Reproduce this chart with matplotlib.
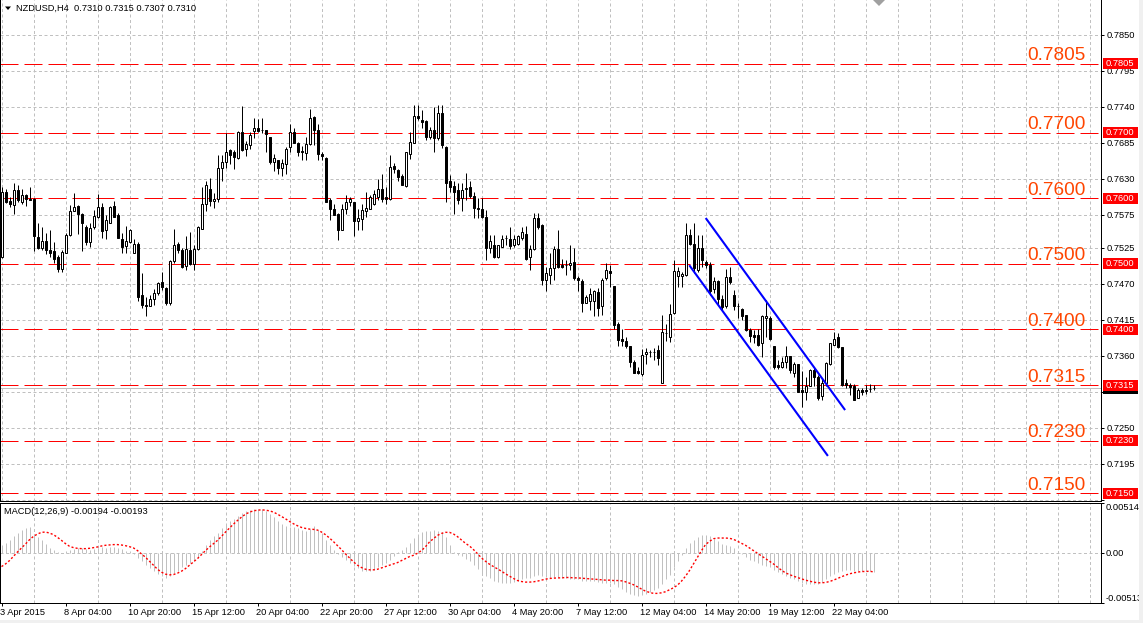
import numpy as np
import matplotlib
matplotlib.use("Agg")
import matplotlib.pyplot as plt
import matplotlib.transforms as mtransforms
from matplotlib.patches import Rectangle, Polygon

plt.rcParams['font.family'] = ['Liberation Sans', 'DejaVu Sans']

# ── Canvas (pixels) ──
W, H = 1143, 623
PX = 0.72  # one pixel in points at dpi 100

# ── Data: NZDUSD H4 candles ──
opens = [
    0.7511, 0.7609, 0.7596, 0.7590, 0.7613, 0.7595, 0.7605, 0.7599, 0.7599, 0.7541,
    0.7525, 0.7535, 0.7521, 0.7520, 0.7511, 0.7492, 0.7517, 0.7544, 0.7580, 0.7588,
    0.7576, 0.7557, 0.7534, 0.7556, 0.7571, 0.7587, 0.7551, 0.7563, 0.7588, 0.7574,
    0.7538, 0.7527, 0.7534, 0.7517, 0.7531, 0.7452, 0.7437, 0.7435, 0.7446, 0.7455,
    0.7472, 0.7463, 0.7440, 0.7505, 0.7530, 0.7521, 0.7497, 0.7521, 0.7500, 0.7522,
    0.7554, 0.7592, 0.7614, 0.7596, 0.7599, 0.7647, 0.7655, 0.7674, 0.7670, 0.7661,
    0.7702, 0.7676, 0.7681, 0.7703, 0.7707, 0.7705, 0.7704, 0.7693, 0.7656, 0.7658,
    0.7647, 0.7653, 0.7678, 0.7702, 0.7685, 0.7672, 0.7669, 0.7683, 0.7724, 0.7705,
    0.7668, 0.7662, 0.7598, 0.7583, 0.7576, 0.7551, 0.7583, 0.7595, 0.7594, 0.7566,
    0.7568, 0.7580, 0.7583, 0.7592, 0.7602, 0.7614, 0.7602, 0.7599, 0.7650, 0.7644,
    0.7634, 0.7619, 0.7667, 0.7685, 0.7726, 0.7720, 0.7718, 0.7693, 0.7704, 0.7692,
    0.7730, 0.7678, 0.7626, 0.7619, 0.7613, 0.7600, 0.7614, 0.7618, 0.7603, 0.7586,
    0.7583, 0.7572, 0.7525, 0.7529, 0.7511, 0.7526, 0.7539, 0.7538, 0.7529, 0.7531,
    0.7539, 0.7545, 0.7510, 0.7522, 0.7570, 0.7559, 0.7475, 0.7483, 0.7493, 0.7523,
    0.7498, 0.7498, 0.7498, 0.7503, 0.7478, 0.7474, 0.7441, 0.7444, 0.7444, 0.7457,
    0.7435, 0.7478, 0.7489, 0.7466, 0.7409, 0.7386, 0.7383, 0.7375, 0.7351, 0.7336,
    0.7332, 0.7362, 0.7366, 0.7366, 0.7369, 0.7319, 0.7395, 0.7389, 0.7425, 0.7482,
    0.7482, 0.7483, 0.7544, 0.7531, 0.7491, 0.7525, 0.7503, 0.7498, 0.7461, 0.7474,
    0.7447, 0.7435, 0.7480, 0.7453, 0.7436, 0.7431, 0.7422, 0.7399, 0.7392, 0.7391,
    0.7379, 0.7418, 0.7418, 0.7374, 0.7346, 0.7343, 0.7351, 0.7360, 0.7334, 0.7347,
    0.7308, 0.7305, 0.7313, 0.7338, 0.7328, 0.7298, 0.7318, 0.7347, 0.7376, 0.7388,
    0.7373, 0.7318, 0.7315, 0.7314, 0.7296, 0.7308, 0.7306, 0.7309, 0.7310,
]
highs = [
    0.7618, 0.7615, 0.7602, 0.7623, 0.7620, 0.7614, 0.7607, 0.7617, 0.7600, 0.7563,
    0.7556, 0.7547, 0.7552, 0.7534, 0.7513, 0.7521, 0.7547, 0.7590, 0.7608, 0.7590,
    0.7577, 0.7559, 0.7563, 0.7582, 0.7607, 0.7593, 0.7575, 0.7588, 0.7596, 0.7577,
    0.7547, 0.7558, 0.7553, 0.7538, 0.7534, 0.7486, 0.7450, 0.7453, 0.7461, 0.7473,
    0.7487, 0.7465, 0.7506, 0.7554, 0.7534, 0.7524, 0.7542, 0.7549, 0.7529, 0.7558,
    0.7618, 0.7627, 0.7631, 0.7608, 0.7666, 0.7666, 0.7699, 0.7676, 0.7674, 0.7703,
    0.7741, 0.7688, 0.7702, 0.7723, 0.7721, 0.7723, 0.7705, 0.7694, 0.7667, 0.7659,
    0.7660, 0.7679, 0.7713, 0.7707, 0.7686, 0.7680, 0.7694, 0.7737, 0.7725, 0.7714,
    0.7670, 0.7663, 0.7600, 0.7592, 0.7577, 0.7592, 0.7605, 0.7602, 0.7595, 0.7584,
    0.7591, 0.7610, 0.7605, 0.7613, 0.7629, 0.7637, 0.7618, 0.7666, 0.7654, 0.7645,
    0.7637, 0.7671, 0.7702, 0.7742, 0.7742, 0.7735, 0.7720, 0.7709, 0.7740, 0.7742,
    0.7743, 0.7680, 0.7636, 0.7626, 0.7623, 0.7623, 0.7639, 0.7626, 0.7610, 0.7600,
    0.7600, 0.7582, 0.7544, 0.7544, 0.7529, 0.7544, 0.7544, 0.7557, 0.7544, 0.7544,
    0.7556, 0.7558, 0.7529, 0.7578, 0.7577, 0.7561, 0.7496, 0.7516, 0.7527, 0.7552,
    0.7507, 0.7506, 0.7529, 0.7525, 0.7481, 0.7477, 0.7453, 0.7463, 0.7460, 0.7463,
    0.7478, 0.7501, 0.7498, 0.7466, 0.7412, 0.7400, 0.7389, 0.7375, 0.7353, 0.7343,
    0.7370, 0.7371, 0.7369, 0.7372, 0.7376, 0.7422, 0.7409, 0.7439, 0.7506, 0.7496,
    0.7488, 0.7563, 0.7554, 0.7562, 0.7544, 0.7544, 0.7506, 0.7503, 0.7480, 0.7475,
    0.7452, 0.7492, 0.7495, 0.7460, 0.7440, 0.7433, 0.7422, 0.7402, 0.7399, 0.7400,
    0.7422, 0.7445, 0.7421, 0.7374, 0.7353, 0.7358, 0.7374, 0.7360, 0.7351, 0.7348,
    0.7337, 0.7328, 0.7339, 0.7343, 0.7330, 0.7324, 0.7351, 0.7380, 0.7396, 0.7395,
    0.7373, 0.7324, 0.7319, 0.7316, 0.7310, 0.7310, 0.7315, 0.7317, 0.7315,
]
lows = [
    0.7509, 0.7593, 0.7587, 0.7576, 0.7595, 0.7591, 0.7588, 0.7597, 0.7519, 0.7522,
    0.7521, 0.7515, 0.7511, 0.7501, 0.7487, 0.7488, 0.7516, 0.7543, 0.7580, 0.7546,
    0.7520, 0.7529, 0.7526, 0.7554, 0.7570, 0.7540, 0.7538, 0.7562, 0.7571, 0.7539,
    0.7516, 0.7516, 0.7532, 0.7516, 0.7444, 0.7432, 0.7421, 0.7435, 0.7437, 0.7453,
    0.7460, 0.7437, 0.7438, 0.7501, 0.7516, 0.7493, 0.7491, 0.7498, 0.7490, 0.7521,
    0.7554, 0.7580, 0.7588, 0.7585, 0.7595, 0.7627, 0.7646, 0.7653, 0.7645, 0.7660,
    0.7673, 0.7664, 0.7676, 0.7692, 0.7702, 0.7699, 0.7670, 0.7653, 0.7642, 0.7637,
    0.7634, 0.7637, 0.7671, 0.7685, 0.7665, 0.7658, 0.7658, 0.7681, 0.7681, 0.7658,
    0.7658, 0.7595, 0.7567, 0.7574, 0.7537, 0.7551, 0.7576, 0.7588, 0.7543, 0.7552,
    0.7552, 0.7572, 0.7583, 0.7590, 0.7598, 0.7595, 0.7591, 0.7598, 0.7638, 0.7626,
    0.7620, 0.7618, 0.7660, 0.7685, 0.7720, 0.7708, 0.7689, 0.7691, 0.7671, 0.7689,
    0.7677, 0.7595, 0.7610, 0.7576, 0.7592, 0.7580, 0.7598, 0.7600, 0.7570, 0.7570,
    0.7570, 0.7506, 0.7516, 0.7509, 0.7509, 0.7526, 0.7529, 0.7522, 0.7526, 0.7529,
    0.7537, 0.7506, 0.7490, 0.7521, 0.7554, 0.7468, 0.7459, 0.7469, 0.7475, 0.7493,
    0.7493, 0.7483, 0.7491, 0.7475, 0.7458, 0.7426, 0.7440, 0.7430, 0.7421, 0.7421,
    0.7422, 0.7475, 0.7465, 0.7400, 0.7374, 0.7375, 0.7371, 0.7343, 0.7333, 0.7332,
    0.7329, 0.7348, 0.7358, 0.7353, 0.7346, 0.7319, 0.7383, 0.7381, 0.7423, 0.7465,
    0.7464, 0.7481, 0.7529, 0.7486, 0.7488, 0.7496, 0.7493, 0.7452, 0.7455, 0.7437,
    0.7430, 0.7433, 0.7469, 0.7430, 0.7417, 0.7414, 0.7397, 0.7381, 0.7380, 0.7374,
    0.7358, 0.7389, 0.7384, 0.7339, 0.7339, 0.7341, 0.7341, 0.7333, 0.7328, 0.7305,
    0.7282, 0.7293, 0.7313, 0.7313, 0.7292, 0.7293, 0.7313, 0.7346, 0.7376, 0.7372,
    0.7313, 0.7310, 0.7300, 0.7292, 0.7295, 0.7300, 0.7302, 0.7305, 0.7307,
]
closes = [
    0.7609, 0.7595, 0.7592, 0.7613, 0.7598, 0.7605, 0.7599, 0.7598, 0.7542, 0.7525,
    0.7535, 0.7521, 0.7517, 0.7508, 0.7492, 0.7518, 0.7544, 0.7581, 0.7587, 0.7576,
    0.7563, 0.7533, 0.7555, 0.7573, 0.7587, 0.7550, 0.7567, 0.7587, 0.7572, 0.7539,
    0.7526, 0.7535, 0.7552, 0.7530, 0.7450, 0.7437, 0.7435, 0.7447, 0.7455, 0.7471,
    0.7464, 0.7440, 0.7505, 0.7529, 0.7521, 0.7496, 0.7522, 0.7500, 0.7522, 0.7556,
    0.7592, 0.7621, 0.7596, 0.7599, 0.7646, 0.7655, 0.7671, 0.7666, 0.7663, 0.7702,
    0.7674, 0.7683, 0.7696, 0.7708, 0.7703, 0.7705, 0.7698, 0.7656, 0.7661, 0.7647,
    0.7654, 0.7676, 0.7702, 0.7685, 0.7670, 0.7670, 0.7683, 0.7723, 0.7705, 0.7667,
    0.7665, 0.7595, 0.7583, 0.7575, 0.7551, 0.7584, 0.7594, 0.7599, 0.7565, 0.7570,
    0.7582, 0.7585, 0.7602, 0.7606, 0.7615, 0.7599, 0.7599, 0.7648, 0.7645, 0.7633,
    0.7621, 0.7670, 0.7686, 0.7726, 0.7722, 0.7717, 0.7694, 0.7704, 0.7692, 0.7730,
    0.7681, 0.7624, 0.7618, 0.7610, 0.7598, 0.7613, 0.7616, 0.7603, 0.7586, 0.7583,
    0.7572, 0.7525, 0.7535, 0.7511, 0.7529, 0.7538, 0.7539, 0.7527, 0.7538, 0.7542,
    0.7548, 0.7508, 0.7523, 0.7570, 0.7557, 0.7475, 0.7486, 0.7493, 0.7523, 0.7495,
    0.7496, 0.7498, 0.7501, 0.7478, 0.7475, 0.7441, 0.7450, 0.7454, 0.7459, 0.7433,
    0.7476, 0.7491, 0.7486, 0.7407, 0.7384, 0.7383, 0.7375, 0.7350, 0.7334, 0.7333,
    0.7361, 0.7366, 0.7366, 0.7366, 0.7356, 0.7396, 0.7394, 0.7424, 0.7489, 0.7489,
    0.7485, 0.7544, 0.7531, 0.7493, 0.7524, 0.7506, 0.7498, 0.7458, 0.7474, 0.7447,
    0.7434, 0.7480, 0.7472, 0.7435, 0.7435, 0.7420, 0.7399, 0.7390, 0.7389, 0.7376,
    0.7421, 0.7421, 0.7386, 0.7343, 0.7343, 0.7351, 0.7360, 0.7338, 0.7348, 0.7305,
    0.7305, 0.7313, 0.7338, 0.7328, 0.7295, 0.7319, 0.7349, 0.7379, 0.7386, 0.7373,
    0.7315, 0.7315, 0.7312, 0.7293, 0.7308, 0.7305, 0.7308, 0.7309, 0.7310,
]

# MACD(12,26,9): main histogram and signal, in units of 1e-5
macd_main = [
    85, 101, 135, 169, 203, 237, 254, 260, 193, 159,
    135, 91, 51, 30, 10, 3, 17, 34, 44, 51,
    51, 44, 34, 41, 51, 57, 51, 57, 61, 51,
    41, 24, 17, -10, -51, -85, -118, -152, -186, -213,
    -237, -254, -237, -203, -179, -145, -125, -101, -85, -51,
    17, 85, 135, 169, 203, 254, 287, 321, 348, 372,
    406, 423, 433, 443, 450, 450, 429, 395, 362, 328,
    294, 270, 260, 260, 254, 237, 220, 247, 270, 237,
    203, 135, 85, 34, -10, -44, -68, -101, -135, -152,
    -179, -186, -179, -169, -145, -118, -101, -68, -34, 10,
    34, 57, 101, 152, 186, 213, 226, 226, 237, 226,
    213, 159, 85, 10, -17, -34, -57, -85, -118, -159,
    -203, -237, -260, -281, -294, -304, -308, -304, -294, -281,
    -270, -260, -254, -237, -226, -237, -247, -254, -247, -247,
    -254, -260, -264, -270, -270, -281, -281, -287, -287, -294,
    -304, -304, -304, -321, -348, -372, -395, -416, -433, -439,
    -433, -416, -395, -379, -355, -314, -270, -220, -145, -78,
    -17, 51, 101, 135, 159, 179, 186, 169, 145, 118,
    91, 78, 68, 51, 24, -10, -44, -68, -85, -101,
    -118, -128, -145, -169, -193, -213, -233, -254, -270, -287,
    -304, -314, -321, -321, -314, -294, -270, -237, -213, -193,
    -179, -172, -169, -179, -186, -186, -189, -189, -194,
]
macd_signal = [
    -139, -112, -78, -34, 10, 51, 91, 135, 169, 193,
    210, 213, 203, 186, 159, 128, 95, 68, 54, 47,
    44, 44, 47, 54, 61, 71, 78, 81, 85, 85,
    81, 74, 64, 51, 24, -10, -44, -85, -125, -166,
    -196, -216, -223, -220, -206, -186, -159, -125, -91, -57,
    -17, 24, 61, 95, 128, 169, 213, 254, 294, 331,
    365, 395, 416, 429, 436, 439, 436, 429, 416, 395,
    372, 348, 321, 297, 277, 260, 250, 243, 240, 233,
    213, 186, 152, 115, 74, 34, -10, -51, -91, -125,
    -149, -166, -172, -172, -166, -152, -139, -125, -112, -98,
    -78, -57, -37, -24, -3, 24, 64, 112, 145, 179,
    199, 210, 210, 193, 166, 132, 98, 71, 34, -7,
    -51, -85, -115, -139, -162, -186, -213, -237, -260, -281,
    -291, -297, -297, -294, -287, -277, -267, -260, -257, -254,
    -254, -250, -250, -254, -254, -257, -260, -264, -267, -270,
    -274, -277, -277, -281, -281, -284, -294, -308, -324, -345,
    -368, -389, -402, -412, -412, -406, -395, -375, -355, -328,
    -287, -237, -179, -112, -44, 24, 85, 118, 145, 152,
    152, 152, 149, 139, 118, 98, 78, 51, 24, -3,
    -30, -57, -85, -112, -145, -176, -203, -220, -237, -250,
    -264, -277, -287, -297, -304, -304, -301, -291, -277, -260,
    -243, -226, -213, -203, -196, -189, -189, -186, -193,
]

levels = [0.7805, 0.7700, 0.7600, 0.7500, 0.7400, 0.7315, 0.7230, 0.7150]
price_ticks = [0.7850, 0.7795, 0.7740, 0.7685, 0.7630, 0.7575, 0.7525,
               0.7470, 0.7415, 0.7360, 0.7305, 0.7250, 0.7195, 0.7140]
# ticks whose labels sit under the price boxes on the axis
hidden_tick_labels = [0.7305, 0.7140]
time_labels = ["3 Apr 2015", "8 Apr 04:00", "10 Apr 20:00", "15 Apr 12:00",
               "20 Apr 04:00", "22 Apr 20:00", "27 Apr 12:00", "30 Apr 04:00",
               "4 May 20:00", "7 May 12:00", "12 May 04:00", "14 May 20:00",
               "19 May 12:00", "22 May 04:00"]
# trend channel anchors: (bar index, price)
channel_upper = [(176.05, 0.7570), (210.9, 0.7277)]
channel_lower = [(171.95, 0.7498), (206.6, 0.7207)]

# ── Colours ──
GRID = "#c0c0c0"
LEVEL_RED = "#ff0000"
LABEL_ORANGE = "#ff4500"
HIST_GRAY = "#c0c0c0"


def fx(px):
    return px / W


def fy(py):
    return 1 - py / H


o = np.array(opens)
h = np.array(highs)
l = np.array(lows)
c = np.array(closes)
x = np.arange(len(c))
hist = np.array(macd_main) * 1e-5
sig = np.array(macd_signal) * 1e-5

fig = plt.figure(figsize=(W / 100, H / 100), dpi=100)
fig.patch.set_facecolor("white")

# pixel geometry of the two panels
AX_RIGHT = 1101
MAIN_BOTTOM = 500.5
MACD_TOP, MACD_BOTTOM = 502.5, 603.3

ax = fig.add_axes([0, fy(MAIN_BOTTOM), fx(AX_RIGHT), MAIN_BOTTOM / H])
axm = fig.add_axes([0, fy(MACD_BOTTOM), fx(AX_RIGHT), (MACD_BOTTOM - MACD_TOP) / H])

xlim = (-1.5 / 4, (AX_RIGHT - 1.5) / 4)
ax.set_xlim(*xlim)
axm.set_xlim(*xlim)
# price scale: 0.7805 sits at y=64 px, 6554 px per unit of price
ax.set_ylim(0.7805 - (MAIN_BOTTOM - 64) / 6554, 0.7805 + 64 / 6554)
axm.set_ylim(-0.00513, 0.00514)

for a in (ax, axm):
    for s in a.spines.values():
        s.set_color("black")
        s.set_linewidth(PX)
ax.spines["top"].set_visible(False)

# ── grid ──
grid_kw = dict(color=GRID, lw=PX, ls=(0, (3, 2.5)))
ax.set_xticks(np.arange(0, 275, 8))
ax.tick_params(axis="x", length=0, labelbottom=False)
ax.grid(True, axis="both", zorder=0, **grid_kw)
ax.set_axisbelow(True)

ax.yaxis.tick_right()
ax.set_yticks(price_ticks)
ax.set_yticklabels(["" if t in hidden_tick_labels else f"{t:.4f}" for t in price_ticks])
ax.tick_params(axis="y", length=2.2, width=PX, pad=1.6, labelsize=6.7,
               direction="out", colors="black")

# ── levels, current price, candles ──
for lvl in levels:
    ax.axhline(lvl, color=LEVEL_RED, lw=PX, ls=(0, (18, 6)), zorder=2)
ax.axhline(c[-1], color=GRID, lw=PX, zorder=1.5)

up = c >= o
ax.vlines(x, l, h, color="black", lw=PX, zorder=3)
ax.bar(x[up], c[up] - o[up], bottom=o[up], width=0.5, facecolor="white",
       edgecolor="black", lw=PX, zorder=4)
ax.bar(x[~up], c[~up] - o[~up], bottom=o[~up], width=0.5, facecolor="black",
       edgecolor="black", lw=PX, zorder=4)

for (x0, y0), (x1, y1) in (channel_upper, channel_lower):
    ax.plot([x0, x1], [y0, y1], color="#0000ff", lw=1.5, zorder=5,
            solid_capstyle="butt")

# level labels inside chart + red price boxes on the axis
trans = mtransforms.blended_transform_factory(ax.transAxes, ax.transData)
box_h = 11 / 6554
for lvl in levels:
    ax.annotate(f"{lvl:.4f}", xy=(1027.7 / AX_RIGHT, lvl), xycoords=trans,
                xytext=(0, 2.6), textcoords="offset points", ha="left",
                va="baseline", fontsize=13.7, color=LABEL_ORANGE, zorder=7)

# bid price box, mostly covered by the 0.7315 box
ax.add_patch(Rectangle((1103 / AX_RIGHT, c[-1] - box_h / 2), 35 / AX_RIGHT, box_h,
                       transform=trans, facecolor="black", edgecolor="none",
                       clip_on=False, zorder=5))
for lvl in levels:
    ax.add_patch(Rectangle((1103 / AX_RIGHT, lvl - box_h / 2), 35 / AX_RIGHT, box_h,
                           transform=trans, facecolor=LEVEL_RED, edgecolor="none",
                           clip_on=False, zorder=6))
    ax.text(1106 / AX_RIGHT, lvl, f"{lvl:.4f}", transform=trans, color="white",
            va="center", ha="left", fontsize=6.7, zorder=6.5, clip_on=False)

# ── MACD panel ──
axm.vlines(x, 0, hist, color=HIST_GRAY, lw=PX, zorder=2)
axm.plot(x, sig, color="red", lw=1.0, ls=(0, (1.5, 1.5)), zorder=3)
axm.axhline(0, zorder=1, **grid_kw)
axm.set_xticks(np.arange(0, 275, 8), minor=True)
axm.grid(True, which="minor", axis="x", zorder=0, **grid_kw)
axm.set_axisbelow(True)

axm.set_xticks(np.arange(0, 16 * len(time_labels), 16))
axm.set_xticklabels(time_labels)
axm.tick_params(axis="x", which="major", length=2.5, width=PX, pad=1.0,
                labelsize=6.7, direction="out")
axm.tick_params(axis="x", which="minor", length=0)
shift = mtransforms.ScaledTranslation(-2 / 100, 0, fig.dpi_scale_trans)
for lab in axm.get_xticklabels():
    lab.set_horizontalalignment("left")
    lab.set_transform(lab.get_transform() + shift)

axm.yaxis.tick_right()
axm.set_yticks([-0.00513, 0.0, 0.00514])
axm.set_yticklabels(["-0.00513", "0.00", "0.00514"])
axm.tick_params(axis="y", length=2.2, width=PX, pad=0.8, labelsize=6.7,
                direction="out")
ylabs = axm.get_yticklabels()
ylabs[0].set_verticalalignment("bottom")
ylabs[2].set_verticalalignment("top")

axm.text(4 / AX_RIGHT, (MACD_BOTTOM - 511.5) / (MACD_BOTTOM - MACD_TOP),
         f"MACD(12,26,9) {hist[-1]:.5f} {sig[-1]:.5f}", transform=axm.transAxes,
         fontsize=6.7, va="center", ha="left", color="black")

# ── title line ──
fig.patches.append(Polygon([(fx(5), fy(6.5)), (fx(11), fy(6.5)), (fx(8), fy(10))],
                           closed=True, transform=fig.transFigure,
                           facecolor="black", edgecolor="none"))
fig.text(fx(16), fy(8), f"NZDUSD,H4  {o[-1]:.4f} {h[-1]:.4f} {l[-1]:.4f} {c[-1]:.4f}",
         fontsize=6.7, va="center", ha="left", color="black")

# chart-shift marker and window frame
fig.patches.append(Polygon([(fx(873), fy(0)), (fx(885), fy(0)), (fx(879), fy(6))],
                           closed=True, transform=fig.transFigure,
                           facecolor="#a0a0a0", edgecolor="none"))
fig.patches.append(Rectangle((fx(1139), 0), fx(W - 1139), 1, transform=fig.transFigure,
                             facecolor="#f0f0f0", edgecolor="none"))
fig.patches.append(Rectangle((0, 0), 1, (H - 620) / H, transform=fig.transFigure,
                             facecolor="#f0f0f0", edgecolor="none"))

fig.savefig("out.png", dpi=100, facecolor="white")
